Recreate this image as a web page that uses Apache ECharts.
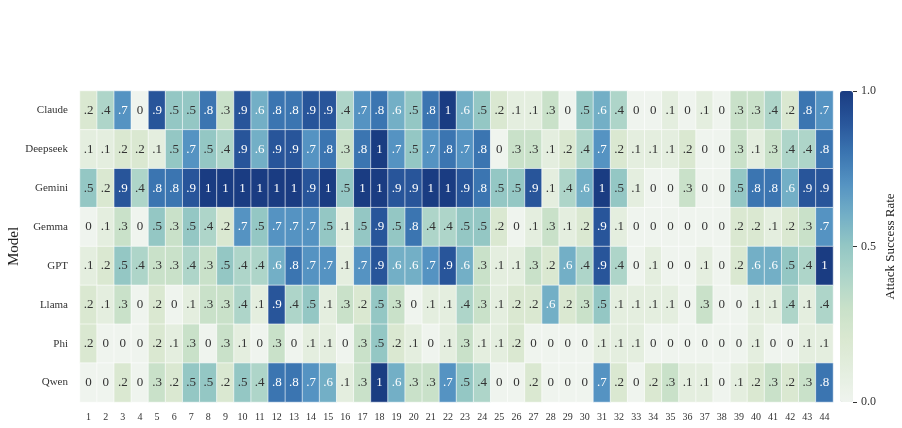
<!DOCTYPE html>
<html>
<head>
<meta charset="utf-8">
<script src="https://cdn.jsdelivr.net/npm/echarts@6/dist/echarts.min.js"></script>
<style>html,body{margin:0;padding:0;background:#fff;}#c{width:902px;height:428px;}</style>
</head>
<body>
<div id="c"></div>
<script>
const models = ['Claude','Deepseek','Gemini','Gemma','GPT','Llama','Phi','Qwen'];
const columns = Array.from({length:44}, (_, i) => String(i + 1));
const claude   = [.2,.4,.7,0,.9,.5,.5,.8,.3,.9,.6,.8,.8,.9,.9,.4,.7,.8,.6,.5,.8,1,.6,.5,.2,.1,.1,.3,0,.5,.6,.4,0,0,.1,0,.1,0,.3,.3,.4,.2,.8,.7];
const deepseek = [.1,.1,.2,.2,.1,.5,.7,.5,.4,.9,.6,.9,.9,.7,.8,.3,.8,1,.7,.5,.7,.8,.7,.8,0,.3,.3,.1,.2,.4,.7,.2,.1,.1,.1,.2,0,0,.3,.1,.3,.4,.4,.8];
const gemini   = [.5,.2,.9,.4,.8,.8,.9,1,1,1,1,1,1,.9,1,.5,1,1,.9,.9,1,1,.9,.8,.5,.5,.9,.1,.4,.6,1,.5,.1,0,0,.3,0,0,.5,.8,.8,.6,.9,.9];
const gemma    = [0,.1,.3,0,.5,.3,.5,.4,.2,.7,.5,.7,.7,.7,.5,.1,.5,.9,.5,.8,.4,.4,.5,.5,.2,0,.1,.3,.1,.2,.9,.1,0,0,0,0,0,0,.2,.2,.1,.2,.3,.7];
const gpt      = [.1,.2,.5,.4,.3,.3,.4,.3,.5,.4,.4,.6,.8,.7,.7,.1,.7,.9,.6,.6,.7,.9,.6,.3,.1,.1,.3,.2,.6,.4,.9,.4,0,.1,0,0,.1,0,.2,.6,.6,.5,.4,1];
const llama    = [.2,.1,.3,0,.2,0,.1,.3,.3,.4,.1,.9,.4,.5,.1,.3,.2,.5,.3,0,.1,.1,.4,.3,.1,.2,.2,.6,.2,.3,.5,.1,.1,.1,.1,0,.3,0,0,.1,.1,.4,.1,.4];
const phi      = [.2,0,0,0,.2,.1,.3,0,.3,.1,0,.3,0,.1,.1,0,.3,.5,.2,.1,0,.1,.3,.1,.1,.2,0,0,0,0,.1,.1,.1,0,0,0,0,0,0,.1,0,0,.1,.1];
const qwen     = [0,0,.2,0,.3,.2,.5,.5,.2,.5,.4,.8,.8,.7,.6,.1,.3,1,.6,.3,.3,.7,.5,.4,0,0,.2,0,0,0,.7,.2,0,.2,.3,.1,.1,0,.1,.2,.3,.2,.3,.8];

const rows = [claude, deepseek, gemini, gemma, gpt, llama, phi, qwen];
const data = [];
rows.forEach((r, yi) => r.forEach((v, xi) => data.push({
  value: [xi, yi, v],
  label: {color: v >= 0.6 ? '#ffffff' : '#333333'}
})));

const fmt = v => v === 0 ? '0' : (v === 1 ? '1' : String(v).replace(/^0/, ''));
const FONT = '"Liberation Serif", "DejaVu Serif", serif';
const palette = ['#eff4ee','#e4eedf','#dae8d1','#c9e1c9','#aed5c9','#94c7c4','#73afc6','#5593c2','#3b75b1','#28559a','#1a3c82'];

const chart = echarts.init(document.getElementById('c'), null, {renderer:'canvas'});
chart.setOption({
  animation: false,
  backgroundColor: '#fff',
  grid: [
    {left: 80, right: 69, top: 91, bottom: 26, containLabel: false, outerBoundsMode: 'none'},
    {left: 840, width: 13, top: 91, bottom: 26, containLabel: false, outerBoundsMode: 'none'}
  ],
  xAxis: [
    {type: 'category', data: columns, gridIndex: 0,
     axisLine: {show: false}, axisTick: {show: false}, splitLine: {show: false},
     axisLabel: {fontFamily: FONT, fontSize: 10, color: '#333', margin: 10, interval: 0}},
    {type: 'value', gridIndex: 1, show: false, min: 0, max: 1}
  ],
  yAxis: [
    {type: 'category', data: models, inverse: true, gridIndex: 0,
     name: 'Model', nameLocation: 'middle', nameGap: 58, nameRotate: 90, nameMoveOverlap: false,
     nameTextStyle: {fontFamily: FONT, fontSize: 15, color: '#222'},
     axisLine: {show: false}, axisTick: {show: false}, splitLine: {show: false},
     axisLabel: {fontFamily: FONT, fontSize: 11, color: '#333', margin: 12}},
    {type: 'value', gridIndex: 1, position: 'right', min: 0, max: 1, interval: 0.5,
     name: 'Attack Success Rate', nameLocation: 'middle', nameGap: 31, nameRotate: 90,
     nameTextStyle: {fontFamily: FONT, fontSize: 13, color: '#222'},
     axisLine: {show: false, onZero: false}, splitLine: {show: false},
     axisTick: {show: true, length: 4, lineStyle: {color: '#333'}},
     axisLabel: {fontFamily: FONT, fontSize: 12, color: '#333', margin: 8, formatter: v => v.toFixed(1)}}
  ],
  visualMap: {
    type: 'continuous', min: 0, max: 1, seriesIndex: 0,
    calculable: false, show: true, orient: 'vertical',
    left: 840, top: 91, itemWidth: 13, itemHeight: 311, padding: 0,
    text: null, showLabel: false, hoverLink: false, z: 1,
    inRange: {color: palette}
  },
  series: [
    {type: 'heatmap', xAxisIndex: 0, yAxisIndex: 0, data: data,
     itemStyle: {borderColor: '#ffffff', borderWidth: 0.6},
     label: {show: true, fontFamily: FONT, fontSize: 13,
       formatter: p => fmt(p.value[2])},
     emphasis: {disabled: true}
    },
    {type: 'scatter', xAxisIndex: 1, yAxisIndex: 1, data: [], silent: true, z: 10}
  ]
});
</script>
</body>
</html>
